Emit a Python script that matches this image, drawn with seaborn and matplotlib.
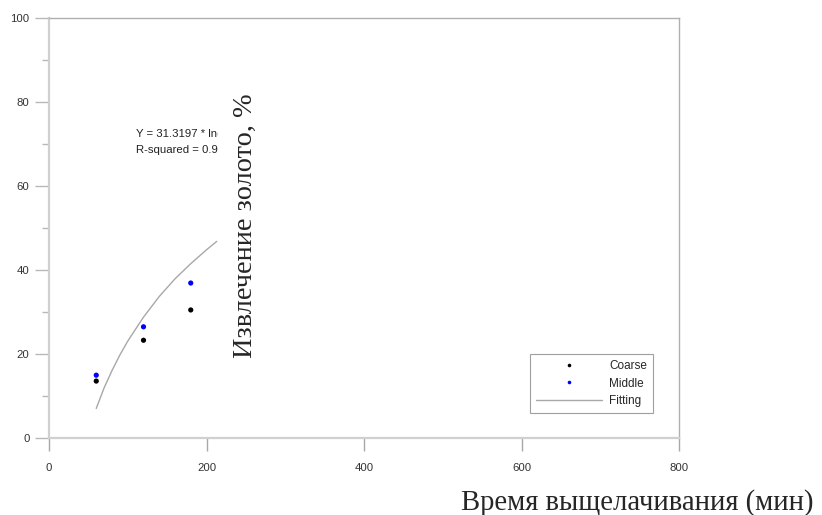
import numpy as np
import pandas as pd
import matplotlib
matplotlib.use("Agg")
import matplotlib.pyplot as plt
import seaborn as sns
from matplotlib.lines import Line2D
from matplotlib.transforms import Bbox, TransformedBbox
from matplotlib.ticker import MultipleLocator

# значения
time_min = [60, 120, 180]
coarse = [13.6, 23.3, 30.5]
middle = [15.0, 26.5, 36.9]

fit_x = [60, 70, 80, 90, 100, 120, 140, 160, 180, 200, 213]
fit_y = [7.1, 12.0, 16.1, 19.8, 23.1, 28.8, 33.7, 37.9, 41.5, 44.8, 46.8]

eq_text = "Y = 31.3197 * ln(X) - 121.1"
r2_text = "R-squared = 0.98"

sns.set_style("white")
plt.rcParams['font.family'] = ['Liberation Sans', 'DejaVu Sans']

fig = plt.figure(figsize=(8.22, 5.15), dpi=100)
ax = fig.add_axes([49 / 822, 1 - 438.3 / 515, 630 / 822, 420.8 / 515])

pts = pd.DataFrame({'t': time_min * 2,
                    'y': coarse + middle,
                    'g': ['Coarse'] * 3 + ['Middle'] * 3})
fit = pd.DataFrame({'t': fit_x, 'y': fit_y})

sns.lineplot(data=fit, x='t', y='y', color='#a8a8a8', lw=1, ax=ax, legend=False)
sns.scatterplot(data=pts, x='t', y='y', hue='g', palette={'Coarse': 'black', 'Middle': '#0000ff'},
                s=14, linewidth=0, ax=ax, legend=False)

ax.set_xlim(0, 800)
ax.set_ylim(0, 100)
ax.xaxis.set_major_locator(MultipleLocator(200))
ax.yaxis.set_major_locator(MultipleLocator(20))
ax.yaxis.set_minor_locator(MultipleLocator(10))
ax.set_xlabel('')
ax.set_ylabel('')

for side in ['left', 'bottom']:
    ax.spines[side].set_color('#d0d0d0')
    ax.spines[side].set_linewidth(1.6)
for side in ['top', 'right']:
    ax.spines[side].set_color('#b0b0b0')
    ax.spines[side].set_linewidth(1.0)

ax.tick_params(axis='x', which='major', direction='out', length=9.5, width=1,
               color='#a8a8a8', pad=8, labelsize=8.2, labelcolor='#333333', bottom=True)
ax.tick_params(axis='y', which='major', direction='out', length=10, width=1,
               color='#b8b8b8', pad=4, labelsize=8.2, labelcolor='#333333', left=True)
ax.tick_params(axis='y', which='minor', direction='out', length=5, width=1,
               color='#b8b8b8', left=True)

# уравнение аппроксимации, обрезанное справа
clip = TransformedBbox(Bbox([[0, 0], [214, 100]]), ax.transData)
for yy, s in [(72.3, eq_text), (68.4, r2_text)]:
    t = ax.text(111, yy, s, fontsize=8.2, color='#222222', va='center', ha='left', clip_on=True)
    t.set_clip_box(clip)

handles = [
    Line2D([], [], ls='none', marker='o', ms=2.6, color='black', mec='none'),
    Line2D([], [], ls='none', marker='o', ms=2.6, color='#0000ff', mec='none'),
    Line2D([], [], color='#a8a8a8', lw=1),
]
leg = ax.legend(handles, ['Coarse', 'Middle', 'Fitting'], loc='lower right',
                bbox_to_anchor=(0.9587, 0.0608), borderaxespad=0, fontsize=8.5,
                handlelength=5.6, handletextpad=0.6, labelspacing=0.45, borderpad=0.5,
                fancybox=False, framealpha=1, edgecolor='#a0a0a0')
leg.get_frame().set_linewidth(0.8)

fig.text(460.5 / 822, 1 - 510 / 515, 'Время выщелачивания (мин)', family='Liberation Serif',
         fontsize=20.6, ha='left', va='baseline')
fig.text(252.3 / 822, 1 - 358 / 515, 'Извлечение золото, %', family='Liberation Serif',
         fontsize=20.4, ha='left', va='baseline', rotation=90, rotation_mode='anchor')

fig.savefig('out.png', dpi=100)
